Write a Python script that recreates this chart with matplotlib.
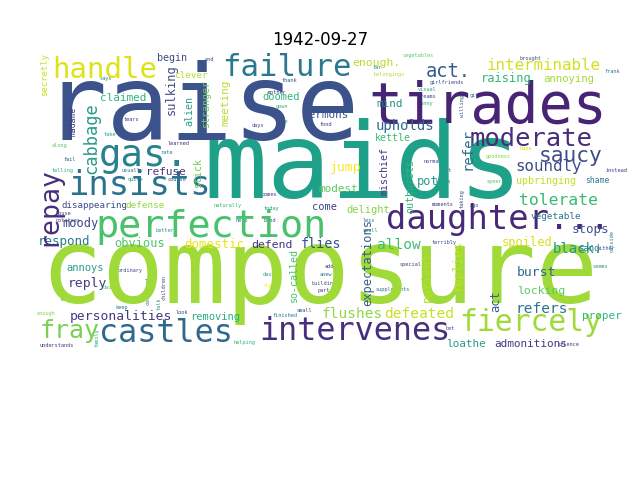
import matplotlib
matplotlib.use("Agg")
import matplotlib.pyplot as plt

TITLE = "1942-09-27"
MAX_PX = 104.0

# ---- data: words and relative frequencies ----
WORDS = [
    "composure", "raise", "maids", "tirades", "failure", "handle", "perfection",
    "daughter...", "insists", "gas.", "intervenes", "castles", "fiercely",
    "moderate", "saucy", "fray", "act.", "tolerate", "soundly", "interminable",
    "upholds", "allow", "flies", "domestic", "respond", "personalities",
    "flushes", "defeated", "refers", "reply", "black.", "burst", "defend",
    "obvious", "moody", "jump", "stops", "spoiled", "raising", "locking",
    "removing", "enough.", "mind", "sermons", "doomed", "claimed", "refuse",
    "modest", "annoying", "annoys", "loathe", "admonitions", "delight",
    "proper", "kettle", "pot", "disappearing", "defense", "come", "vegetable",
    "clever", "begin", "upbringing", "sand", "shame",
    "repay", "cabbage", "expectations", "patient", "replies", "act",
    "so-called", "refer", "mischief", "outbursts", "sulking", "alien",
    "stranger", "meeting", "stick", "madame", "secretly",
]
FREQ = [
    0.99, 1.01, 1.02, 0.545, 0.295, 0.28, 0.37,
    0.325, 0.325, 0.36, 0.305, 0.305, 0.285,
    0.245, 0.205, 0.24, 0.18, 0.158, 0.153, 0.153,
    0.134, 0.139, 0.13, 0.12, 0.12, 0.125,
    0.139, 0.139, 0.139, 0.125, 0.134, 0.125, 0.11,
    0.115, 0.115, 0.125, 0.12, 0.115, 0.115, 0.11,
    0.1, 0.11, 0.106, 0.106, 0.1, 0.106, 0.106,
    0.106, 0.102, 0.1, 0.106, 0.106, 0.1,
    0.106, 0.096, 0.115, 0.088, 0.09, 0.1, 0.09,
    0.09, 0.096, 0.096, 0.086, 0.077,
    0.255, 0.165, 0.115, 0.115, 0.115, 0.115,
    0.096, 0.134, 0.096, 0.096, 0.115, 0.096,
    0.096, 0.106, 0.096, 0.077, 0.086,
]
SMALL_WORDS = [
    "end", "says", "tears", "take", "along", "fail", "telling", "usually",
    "quite", "course", "learned", "rate", "mother", "thank", "gown", "days",
    "nice", "fond", "far", "belongings", "vegetables", "brought", "frank",
    "girlfriends", "visual", "dreams", "funny", "give", "also", "moments",
    "ago", "terribly", "hope", "goodness", "normally", "beans", "speech",
    "instead", "either", "house", "potatoes", "better", "naturally", "comes",
    "today", "help", "band", "less", "small", "added", "anew", "building",
    "part", "dash", "right", "special", "supplements", "finished", "helping",
    "long", "daddy", "ordinary", "keep", "enough", "understands", "look",
    "bet", "silence", "seems", "small", "boot", "taking", "willing",
    "outside", "children", "concerned", "talk", "family",
]
SMALL_FREQ = [0.05] * len(SMALL_WORDS)

# ---- layout (positions in image pixels, rotation) and colours ----
LAYOUT = [
    (40, 303, 0), (44, 140, 0), (203, 198, 0), (368, 123, 0), (222, 76, 0),
    (52, 78, 0), (95, 237, 0), (386, 229, 0), (68, 195, 0), (99, 166, 0),
    (259, 340, 0), (99, 342, 0), (459, 331, 0), (470, 146, 0), (539, 162, 0),
    (40, 338, 0), (426, 77, 0), (519, 205, 0), (515, 171, 0), (487, 70, 0),
    (376, 130, 0), (377, 249, 0), (301, 248, 0), (184, 248, 0), (38, 245, 0),
    (70, 320, 0), (322, 318, 0), (384, 318, 0), (516, 313, 0), (68, 287, 0),
    (553, 253, 0), (517, 276, 0), (251, 248, 0), (114, 247, 0), (62, 227, 0),
    (330, 171, 0), (572, 233, 0), (502, 246, 0), (481, 82, 0), (517, 294, 0),
    (190, 320, 0), (352, 66, 0), (376, 107, 0), (303, 118, 0), (262, 100, 0),
    (100, 101, 0), (146, 175, 0), (318, 192, 0), (543, 82, 0), (66, 271, 0),
    (446, 347, 0), (494, 347, 0), (346, 213, 0), (582, 319, 0), (375, 141, 0),
    (417, 185, 0), (62, 208, 0), (125, 208, 0), (312, 210, 0), (531, 219, 0),
    (174, 78, 0), (157, 61, 0), (516, 184, 0), (578, 251, 0), (585, 183, 0),
    (55, 246, 90), (96, 174, 90), (371, 306, 90), (431, 302, 90),
    (461, 290, 90), (499, 312, 90), (297, 303, 90), (471, 170, 90),
    (388, 195, 90), (413, 213, 90), (175, 115, 90), (192, 126, 90),
    (209, 128, 90), (228, 126, 90), (201, 188, 90), (76, 136, 90),
    (47, 96, 90),
]
COLORS = [
    "#a0da39", "#3b528b", "#1fa088", "#482475", "#2a788e", "#dde318",
    "#4ac16d", "#482878", "#2c728e", "#26828e", "#46307e", "#31688e",
    "#a0da39", "#472d7b", "#3e4c8a", "#7ad151", "#365c8d", "#3aba76",
    "#3e4a89", "#d0e11c", "#31688e", "#3fbc73", "#3b528b", "#e8e419",
    "#2a788e", "#443983", "#8fd744", "#c8e020", "#2c728e", "#443983",
    "#1f9e89", "#31688e", "#443983", "#52c569", "#414487", "#fde725",
    "#3b528b", "#d8e219", "#35b779", "#5ec962", "#29af7f", "#b5de2b",
    "#21918c", "#3b528b", "#2fb47c", "#2fb47c", "#443983", "#5ec962",
    "#a0da39", "#2a9b8a", "#2a9b8a", "#443983", "#86d549", "#2fb47c",
    "#3aba76", "#2a9b8a", "#3e4a89", "#8fd744", "#414487", "#2c728e",
    "#b5de2b", "#3e4a89", "#c2df23", "#2c728e", "#2a788e",
    "#472f7d", "#2a9a89", "#365c8d", "#b5de2b", "#c2df23", "#365c8d",
    "#4ac16d", "#2f6c8e", "#443983", "#2fb47c", "#3e4a89", "#2a9b8a",
    "#6ccd5a", "#b5de2b", "#6ccd5a", "#443983", "#c8e020",
]
SMALL_LAYOUT = [
    (205, 61, 0), (100, 80, 0), (124, 121, 0), (104, 136, 0), (52, 147, 0),
    (64, 161, 0), (52, 172, 0), (122, 172, 0), (128, 181, 0), (168, 181, 0),
    (168, 145, 0), (160, 154, 0), (268, 94, 0), (282, 82, 0), (276, 108, 0),
    (252, 127, 0), (276, 123, 0), (320, 126, 0), (373, 69, 0), (373, 76, 0),
    (403, 57, 0), (520, 60, 0), (605, 73, 0), (430, 84, 0), (418, 91, 0),
    (418, 98, 0), (418, 105, 0), (470, 97, 0), (456, 97, 0), (432, 206, 0),
    (470, 207, 0), (432, 244, 0), (520, 150, 0), (486, 158, 0), (423, 163, 0),
    (435, 183, 0), (487, 183, 0), (606, 172, 0), (597, 250, 0), (55, 215, 0),
    (56, 222, 0), (155, 232, 0), (214, 207, 0), (262, 196, 0), (264, 210, 0),
    (236, 222, 0), (263, 222, 0), (363, 222, 0), (363, 232, 0), (325, 268, 0),
    (320, 276, 0), (312, 285, 0), (318, 292, 0), (263, 276, 0), (262, 287, 0),
    (400, 266, 0), (376, 291, 0), (273, 317, 0), (233, 344, 0), (60, 301, 0),
    (103, 289, 0), (118, 272, 0), (115, 309, 0), (37, 315, 0), (40, 347, 0),
    (176, 314, 0), (446, 330, 0), (558, 346, 0), (593, 268, 0), (297, 312, 0),
    (440, 172, 0), (464, 208, 90), (464, 117, 90), (614, 252, 90),
    (165, 300, 90), (150, 305, 90), (161, 310, 90), (99, 347, 90),
]
SMALL_COLORS = [
    "#3e4a89", "#2a788e", "#443983", "#2a9b8a", "#5ec962", "#3b528b",
    "#2fb47c", "#2c728e", "#2a9b8a", "#3b528b", "#46307e", "#2a788e",
    "#443983", "#3b528b", "#2fb47c", "#3e4a89", "#2a9b8a", "#443983",
    "#2a788e", "#b5de2b", "#5ec962", "#3b528b", "#2a788e", "#3e4a89",
    "#2a9b8a", "#3b528b", "#2fb47c", "#2c728e", "#b5de2b", "#443983",
    "#3b528b", "#3e4a89", "#d8e219", "#86d549", "#3e4a89", "#2a788e",
    "#5ec962", "#443983", "#3b528b", "#443983", "#3e4a89", "#2a9b8a",
    "#2fb47c", "#443983", "#2a9b8a", "#2a788e", "#3b528b", "#2c728e",
    "#2a9b8a", "#443983", "#2a788e", "#3b528b", "#443983", "#2a9b8a",
    "#fde725", "#443983", "#2c728e", "#2a788e", "#2fb47c", "#2a9b8a",
    "#5ec962", "#3e4a89", "#2a788e", "#86d549", "#443983", "#3e4a89",
    "#3b528b", "#443983", "#2a9b8a", "#3b528b", "#2c728e", "#3e4a89",
    "#3b528b", "#2a788e", "#3e4a89", "#2c728e", "#2a9b8a", "#2fb47c",
]

fig = plt.figure(figsize=(6.4, 4.8), dpi=100)
# axes covering the word-cloud image region (20..620 x 53..353 px)
ax = fig.add_axes([20 / 640, (480 - 353) / 480, 600 / 640, 300 / 480])
ax.set_xlim(20, 620)
ax.set_ylim(353, 53)
ax.axis("off")
ax.set_title(TITLE, fontsize=12)

PT = 72.0 / fig.dpi


def draw(words, freqs, layout, colors):
    for w, f, (x, y, rot), c in zip(words, freqs, layout, colors):
        px = MAX_PX * f
        ax.text(x, y, w, fontsize=px * PT, family="DejaVu Sans Mono",
                color=c, rotation=rot, rotation_mode="anchor",
                ha="left", va="baseline")


draw(SMALL_WORDS, SMALL_FREQ, SMALL_LAYOUT, SMALL_COLORS)
draw(WORDS, FREQ, LAYOUT, COLORS)

fig.savefig("out.png", dpi=100)
